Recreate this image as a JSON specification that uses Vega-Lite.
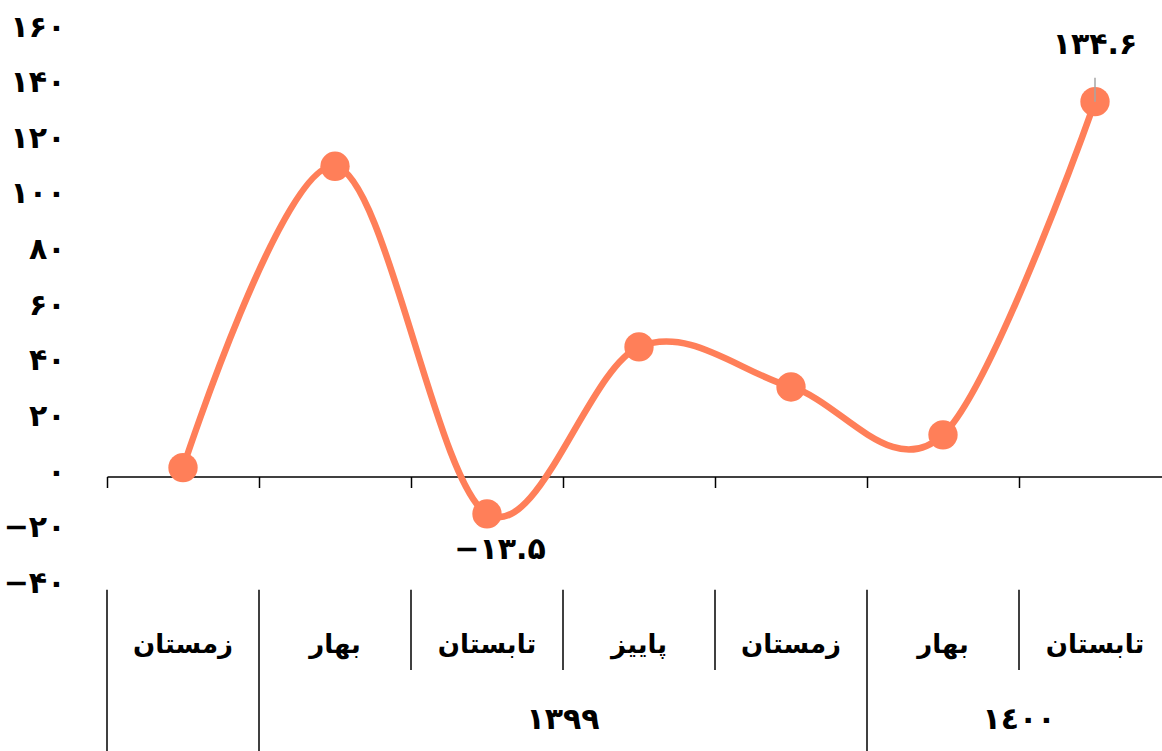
{
  "$schema": "https://vega.github.io/schema/vega-lite/v6.json",
  "autosize": {"type": "none"},
  "padding": {"left": 107, "top": 31, "right": 0, "bottom": 0},
  "width": 1055,
  "height": 720,
  "background": "white",
  "config": {"view": {"stroke": null}, "font": "DejaVu Sans"},
  "data": {
    "values": [
      {"id": "زمستان ۱۳۹۸", "season": "زمستان", "value": 3.1, "grp": true},
      {"id": "بهار ۱۳۹۹", "season": "بهار", "value": 111.4, "grp": true},
      {"id": "تابستان ۱۳۹۹", "season": "تابستان", "value": -13.5, "lab": "−۱۳.۵", "yr": "۱۳۹۹"},
      {"id": "پاییز ۱۳۹۹", "season": "پاییز", "value": 46.5},
      {"id": "زمستان ۱۳۹۹", "season": "زمستان", "value": 32.1},
      {"id": "بهار ۱۴۰۰", "season": "بهار", "value": 14.9, "grp": true, "yr": "۱٤۰۰"},
      {"id": "تابستان ۱۴۰۰", "season": "تابستان", "value": 134.6, "lab": "۱۳۴.۶"}
    ]
  },
  "encoding": {
    "x": {
      "field": "id",
      "type": "nominal",
      "sort": null,
      "scale": {
        "domain": ["زمستان ۱۳۹۸", "بهار ۱۳۹۹", "تابستان ۱۳۹۹", "پاییز ۱۳۹۹", "زمستان ۱۳۹۹", "بهار ۱۴۰۰", "تابستان ۱۴۰۰"],
        "range": [0, 1064],
        "paddingInner": 0,
        "paddingOuter": 0
      },
      "axis": {
        "title": null,
        "labels": false,
        "bandPosition": 0,
        "offset": -274.5,
        "tickSize": 11,
        "tickWidth": 1.5,
        "tickColor": "black",
        "domainColor": "black",
        "domainWidth": 1.5,
        "grid": false
      }
    },
    "y": {
      "type": "quantitative",
      "scale": {"domain": [-98.7, 160], "nice": false, "zero": false},
      "axis": {
        "title": null,
        "values": [-40, -20, 0, 20, 40, 60, 80, 100, 120, 140, 160],
        "domain": false,
        "ticks": false,
        "grid": false,
        "labelPadding": 42,
        "labelFont": "DejaVu Sans",
        "labelFontSize": 30,
        "labelFontWeight": "bold",
        "labelColor": "black",
        "labelOffset": -4,
        "labelExpr": "replace(replace(replace(replace(replace(replace(replace(replace(replace(replace(datum.label,regexp('0','g'),'۰'),regexp('1','g'),'۱'),regexp('2','g'),'۲'),regexp('3','g'),'۳'),regexp('4','g'),'۴'),regexp('5','g'),'۵'),regexp('6','g'),'۶'),regexp('7','g'),'۷'),regexp('8','g'),'۸'),regexp('9','g'),'۹')"
      }
    }
  },
  "layer": [
    {
      "mark": {"type": "line", "interpolate": "cardinal", "color": "#ff7f59", "strokeWidth": 6.5},
      "encoding": {"y": {"field": "value", "type": "quantitative"}}
    },
    {
      "mark": {"type": "circle", "color": "#ff7f59", "opacity": 1, "size": 860},
      "encoding": {"y": {"field": "value", "type": "quantitative"}}
    },
    {
      "transform": [{"filter": "datum.lab && datum.value > 100"}],
      "mark": {"type": "rule", "color": "#a6a6a6", "strokeWidth": 1.5},
      "encoding": {"y": {"field": "value", "type": "quantitative"}, "y2": {"datum": 143.2}}
    },
    {
      "transform": [{"filter": "datum.lab && datum.value < 0"}],
      "mark": {"type": "text", "font": "DejaVu Sans", "fontSize": 30, "fontWeight": "bold", "color": "black", "dy": 36, "dx": 13},
      "encoding": {"y": {"field": "value", "type": "quantitative"}, "text": {"field": "lab"}}
    },
    {
      "transform": [{"filter": "datum.lab && datum.value > 100"}],
      "mark": {"type": "text", "font": "DejaVu Sans", "fontSize": 30, "fontWeight": "bold", "color": "black", "dy": -57},
      "encoding": {"y": {"field": "value", "type": "quantitative"}, "text": {"field": "lab"}}
    },
    {
      "transform": [{"filter": "!datum.grp"}],
      "mark": {"type": "rule", "color": "black", "strokeWidth": 1.5},
      "encoding": {"x": {"field": "id", "type": "nominal", "bandPosition": 0}, "y": {"datum": -40.8}, "y2": {"datum": -69.6}}
    },
    {
      "transform": [{"filter": "datum.grp"}],
      "mark": {"type": "rule", "color": "black", "strokeWidth": 1.5},
      "encoding": {"x": {"field": "id", "type": "nominal", "bandPosition": 0}, "y": {"datum": -40.8}, "y2": {"datum": -98.7}}
    },
    {
      "mark": {"type": "text", "font": "DejaVu Sans", "fontSize": 26, "fontWeight": "bold", "color": "black"},
      "encoding": {"y": {"datum": -60.6}, "text": {"field": "season"}}
    },
    {
      "transform": [{"filter": "datum.yr"}],
      "mark": {"type": "text", "font": "DejaVu Sans", "fontSize": 30, "fontWeight": "bold", "color": "black"},
      "encoding": {"x": {"field": "id", "type": "nominal", "bandPosition": 1}, "y": {"datum": -87.5}, "text": {"field": "yr"}}
    }
  ]
}
